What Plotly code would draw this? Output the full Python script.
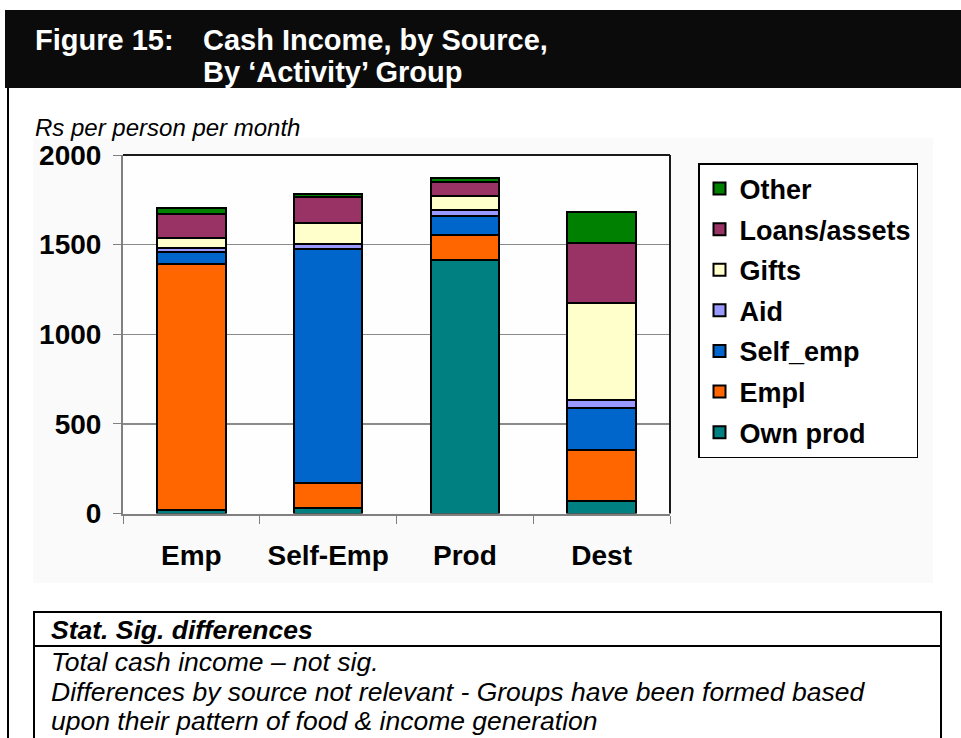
import plotly.graph_objects as go

W, H = 961, 738

categories = ["Emp", "Self-Emp", "Prod", "Dest"]
series_names = ["Own prod", "Empl", "Self_emp", "Aid", "Gifts", "Loans/assets", "Other"]
own_prod = [22, 28, 1417, 70]
empl = [1370, 143, 138, 283]
self_emp = [65, 1302, 102, 233]
aid = [22, 30, 35, 50]
gifts = [60, 119, 77, 537]
loans_assets = [130, 143, 83, 334]
other = [34, 18, 21, 176]
y_ticks = [0, 500, 1000, 1500, 2000]

series_values = [own_prod, empl, self_emp, aid, gifts, loans_assets, other]
colors = ["#008080", "#FF6600", "#0066CC", "#9999FF", "#FFFFCC", "#993366", "#008000"]

FONT = "Liberation Sans, Arial, sans-serif"

def px(x):
    return x / W

def py(y):
    return 1 - y / H

fig = go.Figure()
n = len(series_names)
for i, (name, vals, col) in enumerate(zip(series_names, series_values, colors)):
    fig.add_trace(go.Bar(
        x=categories, y=vals, name="<b>" + name + "</b>", legendgroup=name,
        legendrank=n - i,
        marker=dict(color=col, line=dict(color="black", width=2)),
        width=0.5,
    ))

shapes = []
# header black band
shapes.append(dict(type="rect", xref="paper", yref="paper", x0=px(5), x1=px(965), y0=py(88), y1=py(10),
                   fillcolor="#0b0b0b", line=dict(width=0), layer="below"))
# left frame line
shapes.append(dict(type="line", xref="paper", yref="paper", x0=px(8), x1=px(8), y0=py(88), y1=py(740),
                   line=dict(color="black", width=2)))
# chart background
shapes.append(dict(type="rect", xref="paper", yref="paper", x0=px(33), x1=px(933), y0=py(583), y1=py(138),
                   fillcolor="#fafafa", line=dict(width=0), layer="below"))
# plot area white
shapes.append(dict(type="rect", xref="paper", yref="paper", x0=px(123), x1=px(670), y0=py(513.5), y1=py(155),
                   fillcolor="#fefefe", line=dict(width=0), layer="below"))
# darker gridline at 500 (as in the reference)
shapes.append(dict(type="line", xref="paper", yref="y", x0=px(123), x1=px(670), y0=y_ticks[1], y1=y_ticks[1],
                   line=dict(color="#1a1a1a", width=1.2), layer="below"))
# plot area top/right border
shapes.append(dict(type="line", xref="paper", yref="paper", x0=px(123), x1=px(670), y0=py(155), y1=py(155),
                   line=dict(color="#1a1a1a", width=2)))
shapes.append(dict(type="line", xref="paper", yref="paper", x0=px(670), x1=px(670), y0=py(155), y1=py(513.5),
                   line=dict(color="#1a1a1a", width=2)))
# bottom stat box
shapes.append(dict(type="rect", xref="paper", yref="paper", x0=px(34), x1=px(941), y0=py(745), y1=py(612),
                   fillcolor="white", line=dict(color="black", width=2), layer="below"))
shapes.append(dict(type="line", xref="paper", yref="paper", x0=px(34), x1=px(941), y0=py(646), y1=py(646),
                   line=dict(color="black", width=2)))

annotations = []
def txt(x, y, s, size, color="black", bold=False, italic=False):
    t = s
    if bold:
        t = "<b>" + t + "</b>"
    if italic:
        t = "<i>" + t + "</i>"
    annotations.append(dict(x=px(x), y=py(y), xref="paper", yref="paper", text=t, showarrow=False,
                            xanchor="left", yanchor="middle",
                            font=dict(family=FONT, size=size, color=color)))

txt(33, 40, "Figure 15:", 29, "white", bold=True)
txt(201, 40, "Cash Income, by Source,", 29, "white", bold=True)
txt(201, 72, "By \u2018Activity\u2019 Group", 29, "white", bold=True)
txt(33, 127, "Rs per person per month", 24, italic=True)
txt(49, 630, "Stat. Sig. differences", 26.5, bold=True, italic=True)
txt(49, 662, "Total cash income \u2013 not sig.", 26.5, italic=True)
txt(49, 692, "Differences by source not relevant - Groups have been formed based", 26.5, italic=True)
txt(49, 721, "upon their pattern of food & income generation", 26.5, italic=True)

fig.update_layout(
    width=W, height=H,
    margin=dict(l=0, r=0, t=0, b=0, autoexpand=False),
    paper_bgcolor="white",
    plot_bgcolor="rgba(0,0,0,0)",
    barmode="stack",
    bargap=0.5,
    shapes=shapes,
    annotations=annotations,
    showlegend=True,
    legend=dict(
        x=px(698), y=py(163), xanchor="left", yanchor="top",
        traceorder="grouped", tracegroupgap=2.5,
        bgcolor="white", bordercolor="black", borderwidth=1.5,
        font=dict(family=FONT, size=27, color="black"),
        itemwidth=30,
    ),
    xaxis=dict(
        domain=[px(123), px(670)],
        automargin=False,
        showgrid=False,
        showline=True, linecolor="#808080", linewidth=2,
        ticks="outside", ticklen=8, tickcolor="#808080",
        tickson="boundaries",
        tickfont=dict(family=FONT, size=28, color="black"),
        ticklabelstandoff=16,
    ),
    yaxis=dict(
        domain=[py(513.5), py(155)],
        automargin=False,
        range=[0, 2000],
        tickvals=y_ticks,
        showgrid=True, gridcolor="#8a8a8a", gridwidth=1.2,
        showline=True, linecolor="#808080", linewidth=2,
        ticks="outside", ticklen=8, tickcolor="#808080",
        tickfont=dict(family=FONT, size=28, color="black"),
        ticklabelstandoff=6,
        zeroline=False,
    ),
)

fig.update_xaxes(tickvals=categories, ticktext=["<b>" + c + "</b>" for c in categories])
fig.update_yaxes(ticktext=["<b>" + str(v) + "</b>" for v in y_ticks])

fig.write_html("out.html", config={"displayModeBar": False},
               post_script="document.body.style.margin='0px';")
